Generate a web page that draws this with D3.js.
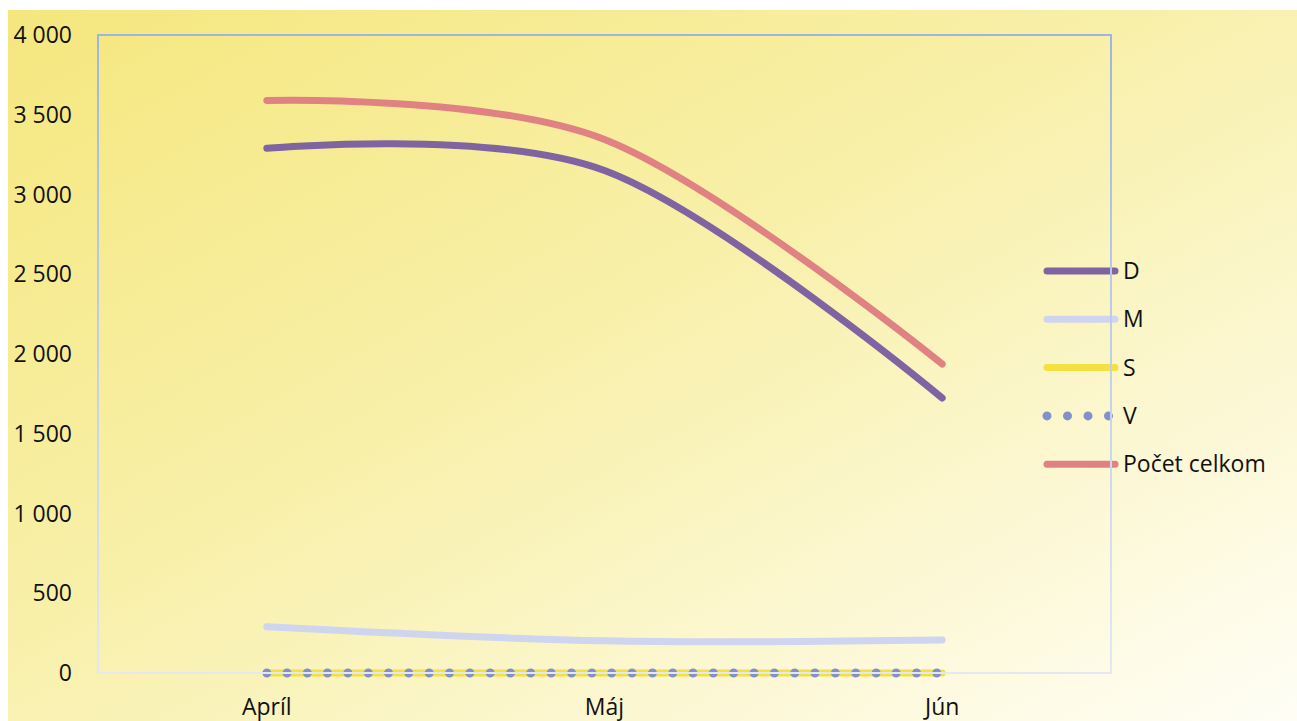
<!DOCTYPE html>
<html>
<head>
<meta charset="utf-8">
<script src="https://cdn.jsdelivr.net/npm/d3@7"></script>
<style>
  html, body { margin: 0; padding: 0; background: #fff; }
  svg text { font-family: "Open Sans", "Noto Sans", sans-serif; fill: #111; }
</style>
</head>
<body>
<div id="chart"></div>
<script>
const W = 1297, H = 721;
const margin = { top: 35, right: 186, bottom: 48, left: 98 };
const width = W - margin.left - margin.right;
const height = H - margin.top - margin.bottom;

// Data
const months = ["Apríl", "Máj", "Jún"];
const seriesNames = ["D", "M", "S", "V", "Počet celkom"];
const valuesD = [3290, 3150, 1724];
const valuesM = [290, 202, 207];
const valuesS = [0, 0, 0];
const valuesV = [0, 0, 0];
const valuesTotal = [3590, 3345, 1937];
const yTicks = [0, 500, 1000, 1500, 2000, 2500, 3000, 3500, 4000];

const seriesValues = [valuesD, valuesM, valuesS, valuesV, valuesTotal];
const colors = ["#8064a2", "#cfd5ee", "#f3e043", "#8490c8", "#e08283"];

const svgRoot = d3.select("#chart").append("svg")
    .attr("width", W)
    .attr("height", H);

const defs = svgRoot.append("defs");
const bg = defs.append("linearGradient")
    .attr("id", "bg")
    .attr("x1", "0%").attr("y1", "0%")
    .attr("x2", "100%").attr("y2", "100%");
bg.append("stop").attr("offset", "0%").attr("stop-color", "#f5e77e");
bg.append("stop").attr("offset", "45%").attr("stop-color", "#f8f0aa");
bg.append("stop").attr("offset", "100%").attr("stop-color", "#fffef6");

const frameGrad = defs.append("linearGradient")
    .attr("id", "frame")
    .attr("gradientUnits", "userSpaceOnUse")
    .attr("x1", 0).attr("y1", margin.top)
    .attr("x2", 0).attr("y2", margin.top + height);
frameGrad.append("stop").attr("offset", "0%").attr("stop-color", "#9db6de");
frameGrad.append("stop").attr("offset", "100%").attr("stop-color", "#e3e8f3");

// background
svgRoot.append("rect")
    .attr("x", 8).attr("y", 10)
    .attr("width", W - 8).attr("height", H - 10)
    .attr("fill", "url(#bg)");

const svg = svgRoot.append("g")
    .attr("transform", `translate(${margin.left},${margin.top})`);

const x = d3.scaleBand().domain(months).range([0, width]);
const y = d3.scaleLinear().domain([0, 4000]).range([height, 0]);

const fmt = d3.formatLocale({ decimal: ",", thousands: " ", grouping: [3], currency: ["", ""] }).format(",");

// y labels
svg.selectAll(".ylab")
    .data(yTicks)
    .enter()
    .append("text")
    .attr("class", "ylab")
    .attr("x", -26)
    .attr("y", d => y(d))
    .attr("dy", "0.35em")
    .attr("text-anchor", "end")
    .style("font-size", "23px")
    .text(d => fmt(d));

// x labels
svg.selectAll(".xlab")
    .data(months)
    .enter()
    .append("text")
    .attr("class", "xlab")
    .attr("x", d => x(d) + x.bandwidth() / 2)
    .attr("y", height + 42)
    .attr("text-anchor", "middle")
    .style("font-size", "23px")
    .text(d => d);

// smoothed lines (close to Excel's smoothing)
const line = d3.line()
    .x((d, i) => x(months[i]) + x.bandwidth() / 2)
    .y(d => y(d))
    .curve(d3.curveCatmullRom.alpha(0));

seriesValues.forEach((vals, i) => {
    const p = svg.append("path")
        .datum(vals)
        .attr("d", line)
        .attr("fill", "none")
        .attr("stroke", colors[i])
        .attr("stroke-linecap", "round")
        .attr("stroke-linejoin", "round");
    if (seriesNames[i] === "V") {
        p.attr("stroke-width", 9).attr("stroke-dasharray", "0 20.3");
    } else {
        p.attr("stroke-width", 7);
    }
});

// legend
const legend = svgRoot.append("g").attr("transform", "translate(1047,271)");
seriesNames.forEach((name, i) => {
    const gy = i * 48.3;
    const isV = name === "V";
    legend.append("line")
        .attr("x1", 0).attr("x2", isV ? 62 : 68)
        .attr("y1", gy).attr("y2", gy)
        .attr("stroke", colors[i])
        .attr("stroke-linecap", "round")
        .attr("stroke-width", isV ? 9 : 7)
        .attr("stroke-dasharray", isV ? "0 20.5" : null);
    legend.append("text")
        .attr("x", 76)
        .attr("y", gy)
        .attr("dy", "0.35em")
        .style("font-size", "23px")
        .text(name);
});

// plot frame
svgRoot.append("rect")
    .attr("x", margin.left).attr("y", margin.top)
    .attr("width", width).attr("height", height)
    .attr("fill", "none")
    .attr("stroke", "url(#frame)")
    .attr("stroke-width", 2);
</script>
</body>
</html>
